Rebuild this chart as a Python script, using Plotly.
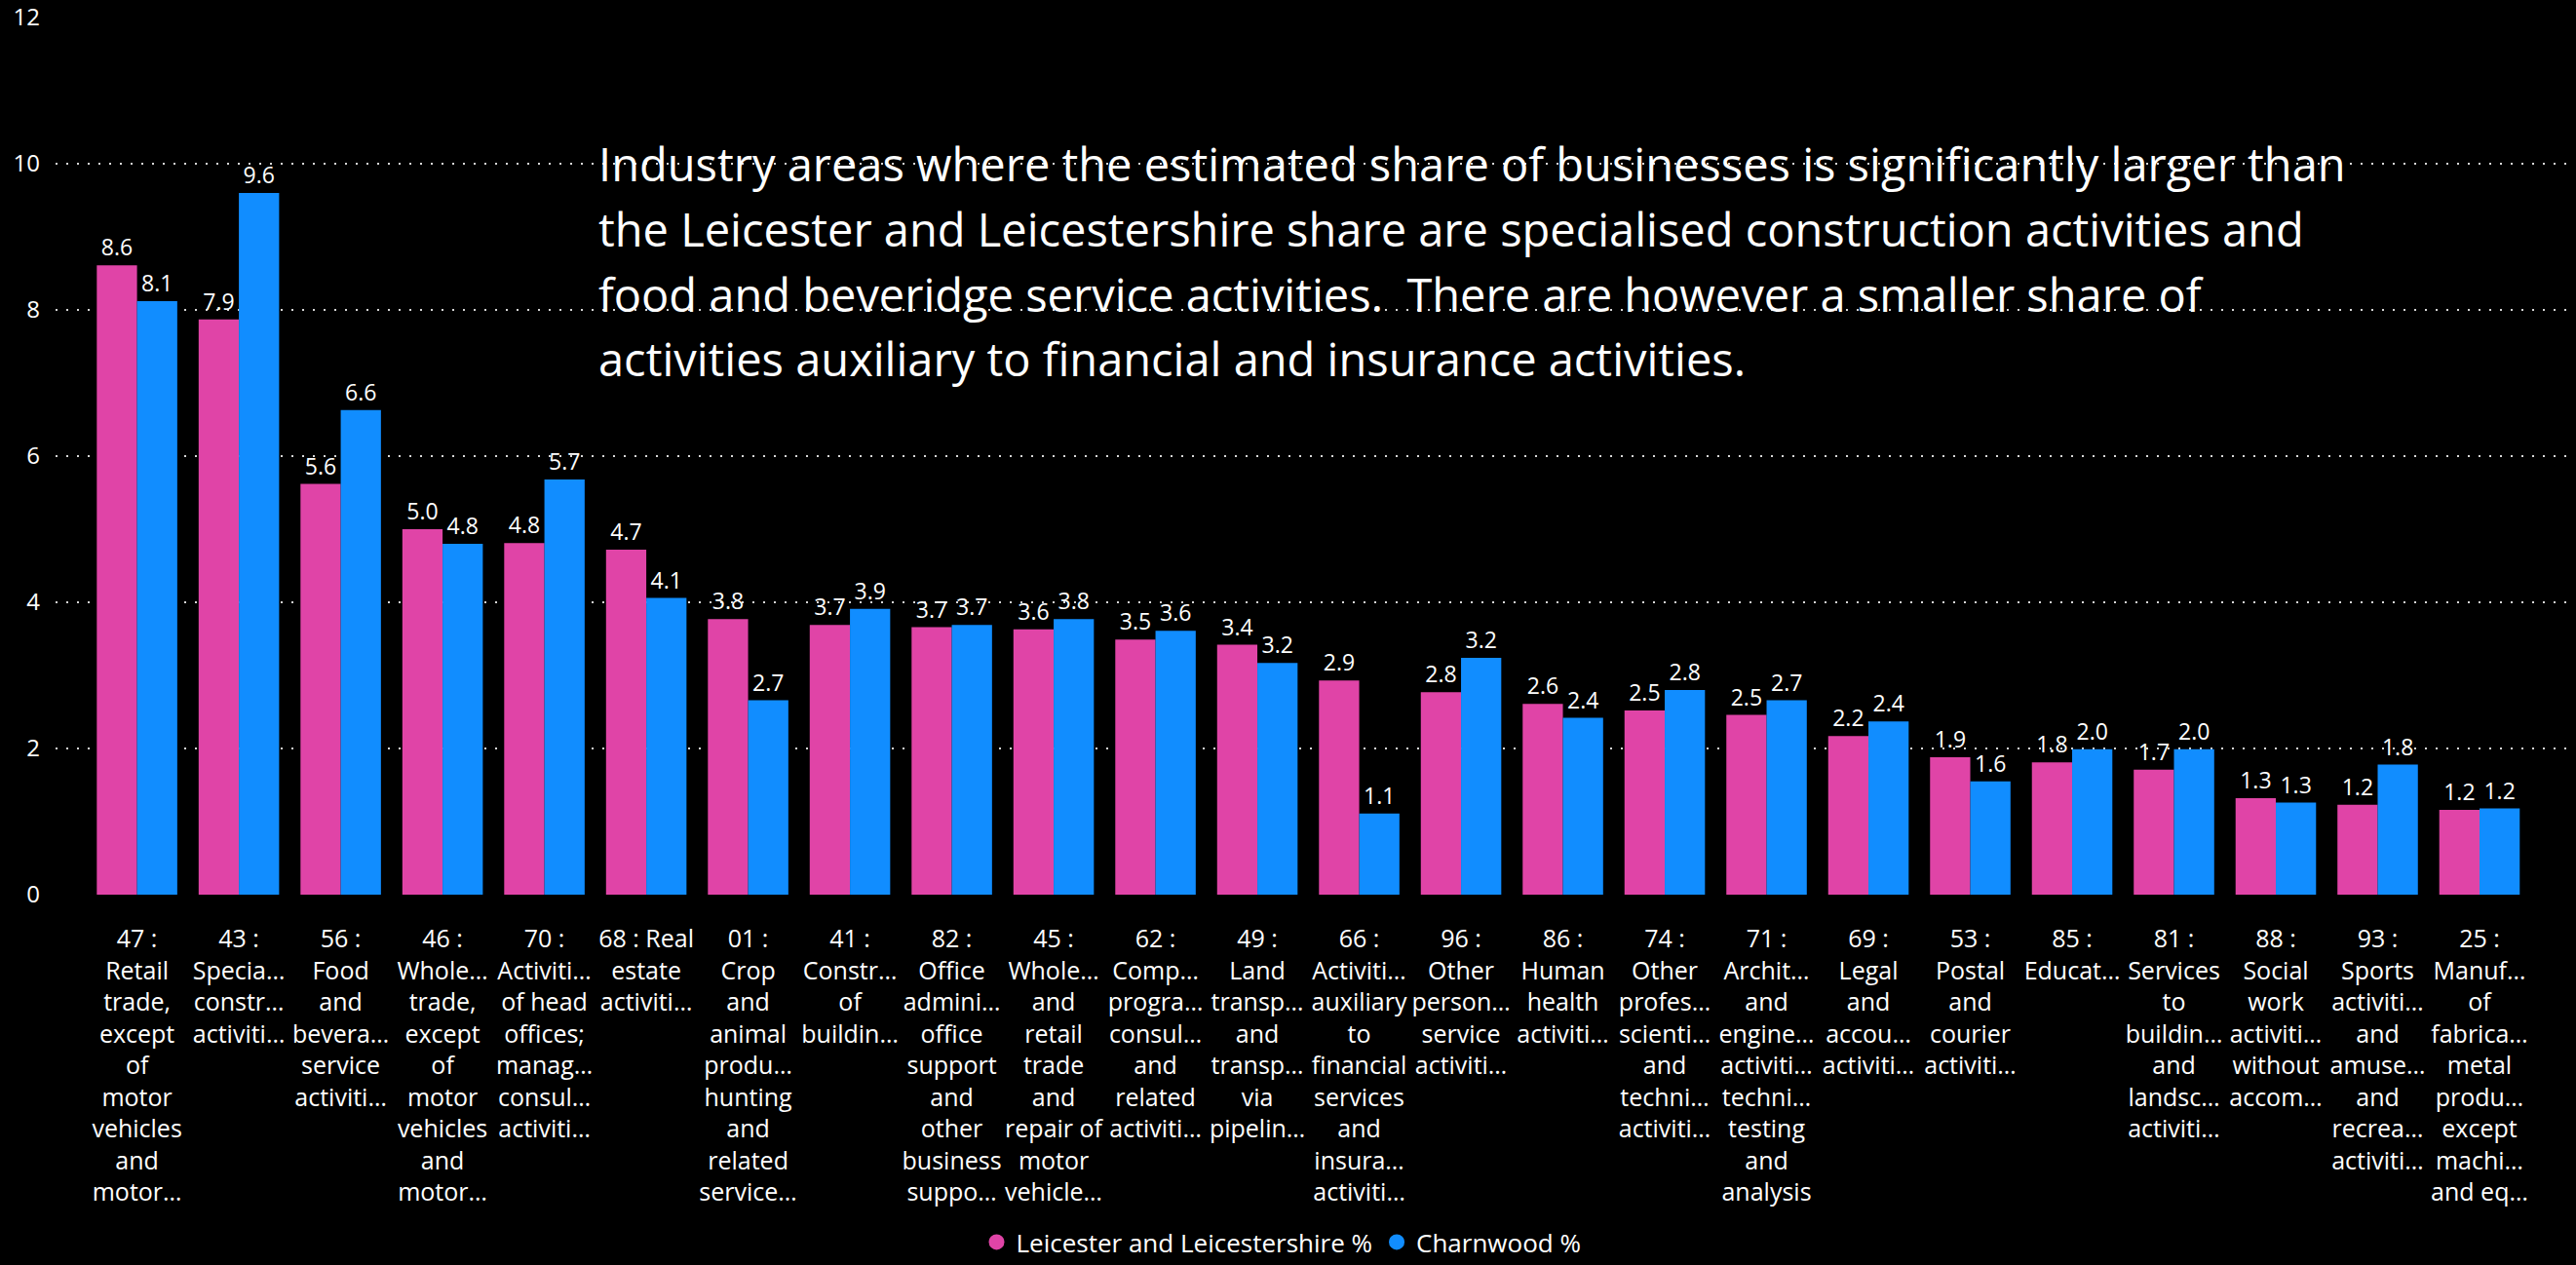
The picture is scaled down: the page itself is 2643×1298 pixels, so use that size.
import plotly.graph_objects as go

categories = [
    "47 :<br>Retail<br>trade,<br>except<br>of<br>motor<br>vehicles<br>and<br>motor…",
    "43 :<br>Specia…<br>constr…<br>activiti…",
    "56 :<br>Food<br>and<br>bevera…<br>service<br>activiti…",
    "46 :<br>Whole…<br>trade,<br>except<br>of<br>motor<br>vehicles<br>and<br>motor…",
    "70 :<br>Activiti…<br>of head<br>offices;<br>manag…<br>consul…<br>activiti…",
    "68 : Real<br>estate<br>activiti…",
    "01 :<br>Crop<br>and<br>animal<br>produ…<br>hunting<br>and<br>related<br>service…",
    "41 :<br>Constr…<br>of<br>buildin…",
    "82 :<br>Office<br>admini…<br>office<br>support<br>and<br>other<br>business<br>suppo…",
    "45 :<br>Whole…<br>and<br>retail<br>trade<br>and<br>repair of<br>motor<br>vehicle…",
    "62 :<br>Comp…<br>progra…<br>consul…<br>and<br>related<br>activiti…",
    "49 :<br>Land<br>transp…<br>and<br>transp…<br>via<br>pipelin…",
    "66 :<br>Activiti…<br>auxiliary<br>to<br>financial<br>services<br>and<br>insura…<br>activiti…",
    "96 :<br>Other<br>person…<br>service<br>activiti…",
    "86 :<br>Human<br>health<br>activiti…",
    "74 :<br>Other<br>profes…<br>scienti…<br>and<br>techni…<br>activiti…",
    "71 :<br>Archit…<br>and<br>engine…<br>activiti…<br>techni…<br>testing<br>and<br>analysis",
    "69 :<br>Legal<br>and<br>accou…<br>activiti…",
    "53 :<br>Postal<br>and<br>courier<br>activiti…",
    "85 :<br>Educat…",
    "81 :<br>Services<br>to<br>buildin…<br>and<br>landsc…<br>activiti…",
    "88 :<br>Social<br>work<br>activiti…<br>without<br>accom…",
    "93 :<br>Sports<br>activiti…<br>and<br>amuse…<br>and<br>recrea…<br>activiti…",
    "25 :<br>Manuf…<br>of<br>fabrica…<br>metal<br>produ…<br>except<br>machi…<br>and eq…",
]

leics_values = [8.61, 7.87, 5.62, 5.0, 4.81, 4.72, 3.77, 3.69, 3.66, 3.63, 3.49, 3.42,
                2.93, 2.77, 2.61, 2.52, 2.46, 2.17, 1.88, 1.81, 1.71, 1.32, 1.23, 1.16]
charnwood_values = [8.12, 9.6, 6.63, 4.8, 5.68, 4.06, 2.66, 3.91, 3.69, 3.77, 3.61, 3.17,
                    1.11, 3.24, 2.42, 2.8, 2.66, 2.37, 1.55, 1.99, 1.99, 1.26, 1.78, 1.18]

series_names = ["Leicester and Leicestershire %", "Charnwood %"]
series_colors = ["#E044A7", "#118DFF"]

annotation_lines = [
    "Industry areas where the estimated share of businesses is significantly larger than",
    "the Leicester and Leicestershire share are specialised construction activities and",
    "food and beveridge service activities.  There are however a smaller share of",
    "activities auxiliary to financial and insurance activities.",
]

y_ticks = [0, 2, 4, 6, 8, 10, 12]

FONT = "Segoe UI, Open Sans, sans-serif"

fig = go.Figure()
for name, vals, col in zip(series_names, [leics_values, charnwood_values], series_colors):
    fig.add_trace(go.Bar(
        x=categories, y=vals, name=name, marker_color=col, marker_line_width=0,
        text=[f"{v:.1f}" for v in vals], textposition="outside",
        textfont=dict(color="white", size=23, family=FONT),
        constraintext="none", cliponaxis=False, showlegend=False,
    ))
    fig.add_trace(go.Scatter(
        x=[None], y=[None], mode="markers", name=name,
        marker=dict(color=col, size=18, symbol="circle"), showlegend=True,
    ))

W, H = 2643, 1298
ml, mr, mt, mb = 57, 6, 18, 380
plot_w = W - ml - mr
plot_h = H - mt - mb

for i, line in enumerate(annotation_lines):
    ycenter_px = 168 + i * 66.8
    fig.add_annotation(
        xref="paper", yref="paper",
        x=(612 - ml) / plot_w, y=(H - mb - ycenter_px) / plot_h,
        xanchor="left", yanchor="middle", showarrow=False,
        text=line, font=dict(color="white", size=47, family=FONT),
    )

fig.update_layout(
    width=W, height=H,
    paper_bgcolor="black", plot_bgcolor="black",
    margin=dict(l=ml, r=mr, t=mt, b=mb, autoexpand=False),
    barmode="group", bargap=0.21, bargroupgap=0,
    font=dict(family=FONT, color="white"),
    legend=dict(orientation="h", x=(1315 - ml) / plot_w, xanchor="center",
                y=(H - mb - 1298) / plot_h, yanchor="bottom",
                font=dict(size=26, color="white", family=FONT),
                bgcolor="rgba(0,0,0,0)", itemwidth=30, tracegroupgap=0),
    xaxis=dict(type="category", range=[-0.80, 23.89], showgrid=False, zeroline=False,
               showline=False, ticks="", tickfont=dict(size=25, color="white", family=FONT),
               tickangle=0, ticklabelstandoff=28, automargin=False),
    yaxis=dict(range=[0, 12], tickvals=y_ticks, showgrid=True, gridcolor="rgba(215,215,215,1)",
               griddash="2px,9px", gridwidth=1.5, zeroline=False, showline=False, ticks="",
               tickfont=dict(size=24, color="white", family=FONT), ticklabelstandoff=15,
               automargin=False),
)

fig.write_html(
    "out.html",
    config={"displayModeBar": False},
    post_script="document.body.style.margin='0';document.body.style.background='black';"
                "document.documentElement.style.background='black';document.body.style.overflow='hidden';",
)
